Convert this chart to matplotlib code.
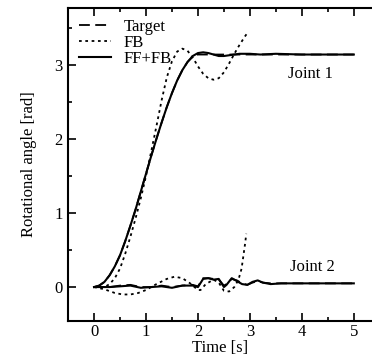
import matplotlib
matplotlib.use("Agg")
import matplotlib.pyplot as plt
from matplotlib.ticker import MultipleLocator

plt.rcParams["font.family"] = ["Liberation Serif", "DejaVu Serif"]
plt.rcParams["font.size"] = 12

# Joint 1 (time [s], angle [rad])
t_target1 = [0.0, 0.1, 0.2, 0.3, 0.4, 0.5, 0.6, 0.7, 0.8, 0.9, 1.0, 1.1, 1.2, 1.3, 1.4,
             1.5, 1.6, 1.7, 1.8, 1.9, 2.0, 2.2, 3.0, 4.0, 5.0]
target1 = [0.0, 0.02, 0.07, 0.16, 0.28, 0.43, 0.62, 0.83, 1.05, 1.29, 1.53, 1.77, 2.0, 2.22, 2.43,
           2.62, 2.79, 2.93, 3.04, 3.11, 3.14, 3.14, 3.14, 3.14, 3.14]

t_fb1 = [0.0, 0.1, 0.2, 0.3, 0.4, 0.5, 0.6, 0.7, 0.8, 0.9, 1.0, 1.1, 1.2, 1.3, 1.4, 1.5, 1.6,
         1.7, 1.8, 1.9, 2.0, 2.1, 2.2, 2.3, 2.4, 2.5, 2.6, 2.7, 2.8, 2.9, 2.95]
fb1 = [0.0, 0.0, 0.0, 0.04, 0.12, 0.25, 0.45, 0.68, 0.93, 1.2, 1.5, 1.83, 2.17, 2.52, 2.83, 3.05, 3.18,
       3.22, 3.19, 3.1, 2.98, 2.88, 2.82, 2.8, 2.82, 2.9, 3.02, 3.15, 3.27, 3.38, 3.43]

t_fffb1 = [0.0, 0.1, 0.2, 0.3, 0.4, 0.5, 0.6, 0.7, 0.8, 0.9, 1.0, 1.1, 1.2, 1.3, 1.4, 1.5, 1.6,
           1.7, 1.8, 1.9, 2.0, 2.1, 2.2, 2.3, 2.4, 2.5, 2.6, 2.7, 2.8, 3.0, 3.2, 3.5, 4.0, 5.0]
fffb1 = [0.0, 0.02, 0.07, 0.16, 0.28, 0.43, 0.62, 0.83, 1.05, 1.29, 1.53, 1.77, 2.0, 2.22, 2.43, 2.62, 2.79,
         2.93, 3.04, 3.12, 3.16, 3.17, 3.16, 3.14, 3.12, 3.12, 3.13, 3.14, 3.15, 3.15, 3.14, 3.15, 3.14, 3.14]

# Joint 2
t_target2 = [0.0, 0.3, 0.5, 0.7, 0.9, 1.1, 1.3, 1.5, 1.7, 1.9, 2.0, 2.1, 2.2, 2.3, 2.4, 2.5,
             2.55, 2.65, 2.75, 2.85, 2.95, 3.05, 3.15, 3.25, 3.4, 3.6, 4.0, 5.0]
target2 = [0.0, 0.0, 0.02, 0.03, 0.0, 0.0, 0.02, 0.0, 0.02, 0.03, 0.01, 0.12, 0.12, 0.11, 0.1, 0.02,
           0.04, 0.11, 0.09, 0.05, 0.03, 0.06, 0.08, 0.06, 0.05, 0.05, 0.05, 0.05]

t_fb2 = [0.0, 0.2, 0.4, 0.55, 0.7, 0.85, 1.0, 1.2, 1.4, 1.55, 1.7, 1.85, 2.0, 2.05, 2.15, 2.3,
         2.4, 2.5, 2.6, 2.7, 2.78, 2.84, 2.88, 2.91, 2.93]
fb2 = [0.0, -0.03, -0.08, -0.1, -0.1, -0.08, -0.04, 0.04, 0.11, 0.14, 0.12, 0.05, -0.04, -0.04, 0.04, 0.1,
       0.06, -0.05, -0.06, 0.0, 0.1, 0.25, 0.45, 0.6, 0.72]

t_fffb2 = [0.0, 0.3, 0.5, 0.7, 0.9, 1.1, 1.3, 1.5, 1.7, 1.9, 2.0, 2.1, 2.2, 2.3, 2.4, 2.5,
           2.55, 2.65, 2.75, 2.85, 2.95, 3.05, 3.15, 3.25, 3.4, 3.6, 4.0, 5.0]
fffb2 = [0.0, 0.0, 0.01, 0.02, -0.01, 0.0, 0.01, -0.01, 0.02, 0.02, 0.0, 0.11, 0.12, 0.1, 0.11, 0.0,
         0.03, 0.12, 0.08, 0.04, 0.03, 0.07, 0.09, 0.06, 0.04, 0.05, 0.05, 0.05]

fig = plt.figure(figsize=(3.72, 3.58), dpi=100)
ax = fig.add_axes([0.183, 0.103, 0.817, 0.875])

ax.plot(t_target1, target1, color="black", linestyle=(0, (6, 3)), linewidth=1.3, label="Target")
ax.plot(t_fb1, fb1, color="black", linestyle=(0, (1.5, 2)), linewidth=1.3, label="FB")
ax.plot(t_fffb1, fffb1, color="black", linestyle="-", linewidth=1.5, label="FF+FB")

ax.plot(t_target2, target2, color="black", linestyle=(0, (6, 3)), linewidth=1.3)
ax.plot(t_fb2, fb2, color="black", linestyle=(0, (1.5, 2)), linewidth=1.3)
ax.plot(t_fffb2, fffb2, color="black", linestyle="-", linewidth=1.5)

ax.text(4.17, 2.88, "Joint 1", ha="center", va="center")
ax.text(4.2, 0.27, "Joint 2", ha="center", va="center")

ax.set_xlim(-0.5, 5.35)
ax.set_ylim(-0.46, 3.77)
ax.xaxis.set_major_locator(MultipleLocator(1))
ax.xaxis.set_minor_locator(MultipleLocator(0.5))
ax.yaxis.set_major_locator(MultipleLocator(1))
ax.yaxis.set_minor_locator(MultipleLocator(0.5))
ax.tick_params(which="both", direction="in", top=True, right=False, width=1.2)
ax.tick_params(which="major", length=6)
ax.tick_params(which="minor", length=3)
ax.tick_params(axis="x", pad=2)
ax.tick_params(axis="y", pad=4)
ax.spines["right"].set_visible(False)
for s in ["left", "bottom", "top"]:
    ax.spines[s].set_linewidth(1.5)

ax.set_xlabel("Time [s]", labelpad=0)
ax.set_ylabel("Rotational angle [rad]", labelpad=12)

ax.legend(loc="upper left", frameon=False, handlelength=1.9, handletextpad=0.8,
          borderaxespad=0.35, labelspacing=0.0, borderpad=0.3)

fig.savefig("out.png", dpi=100)
